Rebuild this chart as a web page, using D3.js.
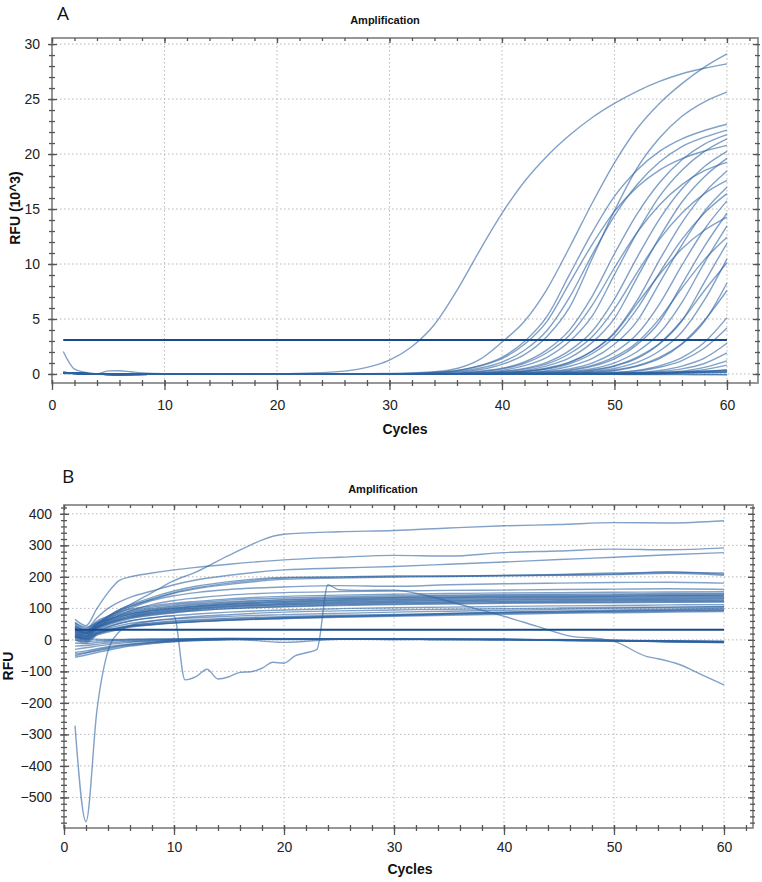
<!DOCTYPE html>
<html><head><meta charset="utf-8">
<script src="https://cdn.jsdelivr.net/npm/d3@7/dist/d3.min.js"></script>
<style>body{margin:0;background:#fff} svg{display:block}</style>
</head><body>
<svg id="c" width="762" height="882"></svg>
<script>
// ---------- Panel A data ----------
const cyclesA = [1,6,12,18,24,28,30,32,34,36,38,40,42,44,46,48,50,52,54,56,58,60];
const seriesA = [
 [0.05,0,0,0,0.12,0.6,1.25,2.5,4.5,7.6,11.2,14.6,17.5,19.8,21.7,23.3,24.6,25.7,26.6,27.3,27.8,28.2],
 [0.1,-0.05,0,0,0,0.02,0.05,0.1,0.2,0.5,1.3,2.9,4.8,7.7,11.5,15.5,19.2,22.3,24.6,26.4,27.9,29.1],
 [0.15,-0.05,0,0,0,0,0,0.02,0.06,0.17,0.39,0.88,1.76,3.41,6.05,10.45,14.85,18.7,21.45,23.43,24.75,25.63],
 [0.1,0,0,0,0,0.01,0.02,0.05,0.14,0.33,0.76,1.52,2.95,5.23,9.03,12.83,16.15,18.53,20.24,21.38,22.14,22.71],
 [0.12,-0.04,0,0,0,0,0.01,0.03,0.08,0.24,0.52,1.08,2.16,3.95,6.96,10.81,14.38,17.2,19.27,20.68,21.53,22.18],
 [0.08,-0.05,0,0,0,0,0,0.01,0.03,0.08,0.24,0.52,1.09,2.19,3.99,7.03,10.93,14.54,17.39,19.48,20.9,21.76],
 [0.1,-0.03,0,0,0,0,0,0.01,0.02,0.05,0.14,0.33,0.76,1.52,2.95,5.23,9.03,12.83,16.15,18.53,20.24,21.38],
 [0.14,-0.02,0,0,0,0.01,0.02,0.04,0.13,0.3,0.7,1.39,2.7,4.79,8.27,11.75,14.79,16.97,18.53,19.58,20.27,20.79],
 [0.1,-0.05,0,0,0,0,0,0,0.01,0.03,0.07,0.23,0.51,1.06,2.12,3.86,6.81,10.58,14.08,16.84,18.86,20.24],
 [0.12,-0.04,0,0,0,0,0,0,0,0.02,0.05,0.14,0.32,0.74,1.47,2.85,5.06,8.74,12.42,15.64,17.94,19.6],
 [0.09,-0.03,0,0,0,0,0,0,0.03,0.07,0.21,0.46,0.97,1.93,3.53,6.22,9.66,12.85,15.37,17.22,18.48,19.24],
 [0.11,-0.05,0,0,0,0,0,0,0,0.01,0.03,0.07,0.23,0.5,1.04,2.07,3.78,6.66,10.35,13.77,16.47,18.45],
 [0.13,-0.02,0,0,0,0,0,0,0,0.02,0.06,0.2,0.44,0.92,1.84,3.36,5.92,9.2,12.24,14.64,16.4,17.6],
 [0.1,-0.04,0,0,0,0,0,0,0,0,0.02,0.04,0.13,0.3,0.7,1.39,2.7,4.79,8.27,11.75,14.79,16.97],
 [0.08,-0.05,0,0,0,0,0,0,0,0,0.02,0.06,0.2,0.44,0.92,1.84,3.36,5.92,9.2,12.24,14.64,16.4],
 [0.12,-0.03,0,0,0,0,0,0,0,0,0,0.03,0.07,0.22,0.47,0.99,1.98,3.61,6.36,9.89,13.16,15.74],
 [0.1,-0.05,0,0,0,0,0,0,0,0,0,0.02,0.04,0.13,0.3,0.69,1.38,2.67,4.73,8.17,11.61,14.62],
 [0.14,-0.04,0,0,0,0,0,0,0,0,0.03,0.1,0.23,0.54,1.07,2.08,3.69,6.37,9.05,11.39,13.07,14.27],
 [0.1,-0.03,0,0,0,0,0,0,0,0,0,0,0.03,0.07,0.22,0.48,1.01,2.02,3.7,6.51,10.12,13.46],
 [0.09,-0.05,0,0,0,0,0,0,0,0,0,0,0.05,0.17,0.37,0.78,1.56,2.86,5.03,7.82,10.4,12.44],
 [0.11,-0.04,0,0,0,0,0,0,0,0,0,0,0.02,0.04,0.13,0.31,0.7,1.41,2.73,4.84,8.36,11.88],
 [0.12,-0.02,0,0,0,0,0,0,0,0,0,0,0,0.03,0.07,0.23,0.5,1.05,2.09,3.82,6.73,10.47],
 [0.1,-0.05,0,0,0,0,0,0,0,0,0,0,0,0.05,0.17,0.36,0.76,1.52,2.77,4.88,7.59,10.1],
 [0.13,-0.03,0,0,0,0,0,0,0,0,0,0,0,0.02,0.04,0.13,0.3,0.7,1.39,2.7,4.79,8.27],
 [0.1,-0.04,0,0,0,0,0,0,0,0,0,0,0,0,0.05,0.17,0.36,0.76,1.52,2.77,4.88,7.59],
 [0.08,-0.05,0,0,0,0,0,0,0,0,0,0,0,0,0.02,0.05,0.14,0.33,0.74,1.49,2.88,5.12],
 [0.12,-0.03,0,0,0,0,0,0,0,0,0,0,0,0,0,0.04,0.11,0.27,0.61,1.22,2.36,4.18],
 [0.1,-0.05,0,0,0,0,0,0,0,0,0,0,0,0,0,0,0.05,0.14,0.32,0.72,1.44,2.79],
 [0.11,-0.04,0,0,0,0,0,0,0,0,0,0,0,0,0,0,0,0.07,0.21,0.46,0.95,1.91],
 [0.09,-0.02,0,0,0,0,0,0,0,0,0,0,0,0,0,0,0,0,0.11,0.26,0.6,1.2],
 [0.12,-0.05,0,0,0,0,0,0,0,0,0,0,0,0,0,0,0,0,0.05,0.18,0.4,0.8],
 [0.1,-0.03,0,0,0,0,0,0,0,0,0,0,0,0,0,0,0,0,0,0.1,0.2,0.4],
 [0.13,-0.05,0,0,0,0,0,0,0,0,0,0,0,0,0,0,0,0.05,0.1,0.15,0.22,0.3],
 [0.1,-0.04,0,0,0,0,0,0,0,0,0,0,0,0,0,0,0.03,0.06,0.1,0.13,0.18,0.22],
 [0.08,-0.05,0,0,0,0,0,0,0,0,0,0,0,0,0,0.02,0.04,0.06,0.08,0.1,0.12,0.15],
 [0.12,-0.03,0,0,0,0,0,0,0,0,0,0,0,0,0,0,0,0,0,0,-0.02,-0.05],
 [0.1,-0.05,0,0,0,0,0,0,0,0,0,0,0,-0.02,-0.03,-0.03,-0.04,-0.05,-0.05,-0.06,-0.07,-0.08],
 [0.15,-0.04,0,0,0,0,0,0,0,0,0,0,0,0,0.02,0.04,0.07,0.1,0.15,0.2,0.28,0.35]
];
const artifactCyclesA = [1,2,3,4,5,6,7,8,10,20,30,40,50,60];
const artifactValuesA = [2.05,0.45,0.15,0.0,0.28,0.3,0.2,0.1,0.03,0,0,0.05,0.1,0.15];
const thresholdA = 3.1;
const yTicksA = [0,5,10,15,20,25,30];

// ---------- Panel B data ----------
const cyclesB = [1,2,3,4,5,6,8,10,12,15,20,25,30,35,40,45,50,55,60];
const seriesB = [
 [55,40,55,75,95,112,150,188,215,268,335,343,347,355,362,366,372,371,378],
 [65,45,100,150,188,200,212,222,230,240,254,262,268,266,277,282,288,286,292],
 [55,35,70,100,120,135,155,175,190,205,222,228,233,240,247,255,262,270,277],
 [40,25,50,75,95,110,135,155,170,185,198,200,203,203,205,208,212,214,212],
 [30,20,45,70,90,105,130,150,165,180,196,199,201,202,204,206,209,216,208],
 [35,22,48,72,92,106,128,148,162,176,192,196,199,201,203,205,207,211,205],
 [20,10,40,65,85,100,125,140,150,160,168,172,170,175,178,180,182,183,180],
 [25,15,40,60,78,92,112,125,133,142,150,153,155,157,158,160,161,162,160],
 [50,30,60,75,88,97,108,116,122,130,138,142,145,147,149,150,151,152,153],
 [45,28,55,70,82,92,104,112,118,126,133,137,140,142,144,145,146,147,148],
 [35,22,50,65,78,88,100,108,114,121,128,133,136,139,141,142,143,144,145],
 [30,20,48,63,76,86,97,105,111,118,126,131,134,136,138,139,140,141,142],
 [40,25,45,60,72,82,94,102,108,115,123,128,132,134,136,137,138,140,140],
 [25,15,40,57,70,80,92,100,106,113,121,126,129,132,134,135,136,137,138],
 [45,30,52,64,74,82,92,99,105,112,119,124,127,129,131,132,133,134,135],
 [20,12,38,54,66,76,88,96,102,109,116,121,124,126,128,129,130,131,132],
 [35,20,42,56,67,76,87,95,100,107,114,119,122,124,126,127,128,129,130],
 [15,8,35,50,62,72,84,92,98,105,112,116,119,121,123,124,125,126,127],
 [28,15,38,52,63,72,83,90,96,103,110,114,117,119,121,122,123,124,125],
 [10,5,32,47,58,67,78,86,92,99,106,111,114,116,118,119,120,121,122],
 [38,24,40,52,62,70,80,87,93,99,105,109,112,114,116,117,118,119,120],
 [20,10,30,42,52,60,70,77,82,88,95,99,102,104,106,108,109,111,112],
 [15,5,25,36,45,52,60,66,70,75,80,84,88,91,94,97,100,103,105],
 [10,0,20,30,38,44,50,54,58,63,70,75,79,84,88,92,95,98,101],
 [5,-5,18,28,36,42,48,53,57,62,68,73,77,82,86,89,92,95,98],
 [12,2,22,32,40,46,54,60,64,69,74,78,81,84,87,89,91,93,95],
 [0,-10,15,25,33,40,48,54,58,63,68,72,75,78,81,84,86,88,90],
 [8,-2,20,30,37,44,52,57,61,66,71,75,78,81,84,87,89,91,93],
 [-50,-42,-35,-28,-22,-17,-10,-5,-2,1,3,4,2,3,1,0,-2,-4,-5],
 [-40,-35,-28,-22,-17,-13,-7,-3,0,2,4,2,3,1,2,0,-1,-3,-6],
 [-30,-25,-20,-15,-11,-8,-4,-1,1,3,2,4,1,2,0,1,-2,-5,-8],
 [-20,-18,-14,-10,-7,-5,-2,0,2,3,-8,2,3,1,2,-1,-3,-6,-9],
 [-10,-12,-8,-5,-3,-2,0,1,2,4,3,2,1,2,1,-2,-4,-3,-7],
 [0,-5,-3,-1,0,1,2,3,3,4,3,3,2,1,1,-1,-3,-5,-6],
 [-55,-48,-40,-33,-26,-20,-12,-6,-2,0,2,3,2,2,0,-1,-3,-5,-7],
 [10,3,2,1,1,2,3,3,4,5,4,3,4,2,1,0,-2,-4,-4],
 [-45,-40,-32,-25,-19,-15,-8,-3,0,2,1,3,3,1,1,-1,-2,-6,-8]
];
const dipCyclesB = [1,2,3,4,5,6,8,10,12,15,20,25,30,35,40,45,50,55,60];
const dipValuesB = [-272,-577,-222,-35,25,45,60,68,74,80,88,92,95,97,99,101,103,104,106];
const dropCyclesB = [1,2,3,4,5,6,8,10,11,12,13,14,15,16,17,18,19,20,21,22,23,24,25,27,30,33,37,40,43,46,49,50,53,54,56,58,60];
const dropValuesB = [15,5,25,40,52,60,70,76,-127,-117,-93,-124,-117,-103,-101,-90,-71,-74,-51,-41,-30,175,159,157,158,140,103,75,43,12,2,-5,-53,-60,-79,-111,-143];
const thresholdB = 32;
const yTicksB = [-500,-400,-300,-200,-100,0,100,200,300,400];
const xTicks = [0,10,20,30,40,50,60];

// ---------- drawing ----------
const svg = d3.select("#c");
const FONT = "'Liberation Sans', Arial, sans-serif";

function drawPanel(o, lines, threshold) {
  const g = svg.append("g");
  const x = d3.scaleLinear().domain(o.xDomain).range([o.left, o.right]);
  const y = d3.scaleLinear().domain(o.yDomain).range([o.bottom, o.top]);

  g.append("g").selectAll("line").data(o.xGrid).join("line")
    .attr("x1", d => x(d)).attr("x2", d => x(d)).attr("y1", o.top).attr("y2", o.bottom)
    .attr("stroke", "#b8b8b8").attr("stroke-width", 1).attr("stroke-dasharray", "1.5,2.5");
  g.append("g").selectAll("line").data(o.yGrid).join("line")
    .attr("y1", d => y(d)).attr("y2", d => y(d)).attr("x1", o.left).attr("x2", o.right)
    .attr("stroke", "#b8b8b8").attr("stroke-width", 1).attr("stroke-dasharray", "1.5,2.5");

  const cid = "clip" + o.name;
  svg.append("clipPath").attr("id", cid).append("rect")
    .attr("x", o.left).attr("y", o.top).attr("width", o.right - o.left).attr("height", o.bottom - o.top);

  const line = d3.line().x(d => x(d[0])).y(d => y(d[1])).curve(d3.curveMonotoneX);
  const lg = g.append("g").attr("clip-path", `url(#${cid})`);
  lines.forEach(pts => {
    lg.append("path").attr("d", line(pts)).attr("fill", "none")
      .attr("stroke", "#2d62a2").attr("stroke-opacity", 0.6).attr("stroke-width", 1.4);
  });
  lg.append("path").attr("d", d3.line().x(d => x(d[0])).y(d => y(d[1]))([[1, threshold], [60, threshold]]))
    .attr("fill", "none").attr("stroke", "#174a8a").attr("stroke-width", 2);

  g.append("rect").attr("x", o.left).attr("y", o.top).attr("width", o.right - o.left).attr("height", o.bottom - o.top)
    .attr("fill", "none").attr("stroke", "#8c8c8c").attr("stroke-width", 1.8);

  const tickStyle = sel => { sel.select(".domain").remove(); sel.selectAll(".tick line").attr("stroke", "#555").attr("stroke-width", 1.3); };
  const noLab = a => a.tickFormat("").tickSizeOuter(0);

  g.append("g").attr("transform", `translate(0,${o.bottom})`)
    .call(d3.axisBottom(x).tickValues(xTicks).tickSizeInner(7).tickSizeOuter(0).tickPadding(o.xPad).tickFormat(d3.format("d")))
    .call(tickStyle)
    .call(s => s.selectAll("text").attr("font-family", FONT).attr("font-size", 14).attr("fill", "#222"));
  g.append("g").attr("transform", `translate(0,${o.bottom})`).call(noLab(d3.axisTop(x).tickValues(xTicks).tickSize(3))).call(tickStyle);
  g.append("g").attr("transform", `translate(0,${o.bottom})`).call(noLab(d3.axisBottom(x).tickValues(o.xMinor).tickSize(3))).call(tickStyle);
  g.append("g").attr("transform", `translate(0,${o.bottom})`).call(noLab(d3.axisTop(x).tickValues(o.xMinor).tickSize(3))).call(tickStyle);
  g.append("g").attr("transform", `translate(0,${o.top})`).call(noLab(d3.axisBottom(x).tickValues(xTicks).tickSize(5))).call(tickStyle);
  g.append("g").attr("transform", `translate(0,${o.top})`).call(noLab(d3.axisBottom(x).tickValues(o.xMinor).tickSize(3))).call(tickStyle);

  g.append("g").attr("transform", `translate(${o.left},0)`)
    .call(d3.axisLeft(y).tickValues(o.yTicks).tickSizeInner(4).tickSizeOuter(0).tickPadding(8).tickFormat(d3.format("d")))
    .call(tickStyle)
    .call(s => s.selectAll("text").attr("font-family", FONT).attr("font-size", 14).attr("fill", "#222"));
  g.append("g").attr("transform", `translate(${o.left},0)`).call(noLab(d3.axisRight(y).tickValues(o.yTicks).tickSize(5))).call(tickStyle);
  g.append("g").attr("transform", `translate(${o.left},0)`).call(noLab(d3.axisLeft(y).tickValues(o.yMinor).tickSize(3))).call(tickStyle);
  g.append("g").attr("transform", `translate(${o.left},0)`).call(noLab(d3.axisRight(y).tickValues(o.yMinor).tickSize(3))).call(tickStyle);
  g.append("g").attr("transform", `translate(${o.right},0)`).call(noLab(d3.axisLeft(y).tickValues(o.yTicks).tickSize(5))).call(tickStyle);
  g.append("g").attr("transform", `translate(${o.right},0)`).call(noLab(d3.axisLeft(y).tickValues(o.yMinor).tickSize(3))).call(tickStyle);
  g.append("g").attr("transform", `translate(${o.right},0)`).call(noLab(d3.axisRight(y).tickValues(o.yMinor).tickSize(2))).call(tickStyle);

  svg.append("text").attr("x", o.letterX).attr("y", o.letterY).attr("font-family", "'Open Sans', 'DejaVu Sans', sans-serif")
    .attr("font-size", 19).attr("fill", "#111").text(o.letter);
  svg.append("text").attr("x", o.titleX).attr("y", o.titleY).attr("text-anchor", "middle").attr("font-family", FONT)
    .attr("font-size", 11).attr("font-weight", "bold").attr("fill", "#111").text("Amplification");
  svg.append("text").attr("x", o.cycX).attr("y", o.cycY).attr("text-anchor", "middle").attr("font-family", FONT)
    .attr("font-size", 14).attr("font-weight", "bold").attr("fill", "#111").text("Cycles");
  svg.append("text").attr("transform", `translate(${o.ylabX},${o.ylabY}) rotate(-90)`).attr("text-anchor", "middle")
    .attr("font-family", FONT).attr("font-size", 14).attr("font-weight", "bold").attr("fill", "#111").text(o.ylab);
}

const minorX = d3.range(0, 63, 2);

const linesA = seriesA.map(vals => vals.map((v, i) => [cyclesA[i], v]));
linesA.push(artifactValuesA.map((v, i) => [artifactCyclesA[i], v]));
drawPanel({
  name: "A", left: 52, right: 758, top: 38, bottom: 383,
  xDomain: [0, 62.76], yDomain: [-0.82, 30.55],
  xGrid: [10, 20, 30, 40, 50, 60], yGrid: yTicksA, yTicks: yTicksA, yMinor: d3.range(0, 31, 1), xMinor: minorX,
  xPad: 10, letter: "A", letterX: 57, letterY: 20, titleX: 385, titleY: 24, cycX: 405, cycY: 434,
  ylab: "RFU (10^3)", ylabX: 20, ylabY: 208
}, linesA, thresholdA);

const linesB = seriesB.map(vals => vals.map((v, i) => [cyclesB[i], v]));
linesB.push(dipValuesB.map((v, i) => [dipCyclesB[i], v]));
linesB.push(dropValuesB.map((v, i) => [dropCyclesB[i], v]));
drawPanel({
  name: "B", left: 64, right: 753, top: 505, bottom: 828,
  xDomain: [0, 62.64], yDomain: [-597, 428],
  xGrid: [10, 20, 30, 40, 50, 60], yGrid: yTicksB, yTicks: yTicksB, yMinor: d3.range(-580, 421, 20), xMinor: minorX,
  xPad: 7, letter: "B", letterX: 62, letterY: 483, titleX: 383, titleY: 493, cycX: 410, cycY: 874,
  ylab: "RFU", ylabX: 13, ylabY: 666
}, linesB, thresholdB);
</script>
</body></html>
